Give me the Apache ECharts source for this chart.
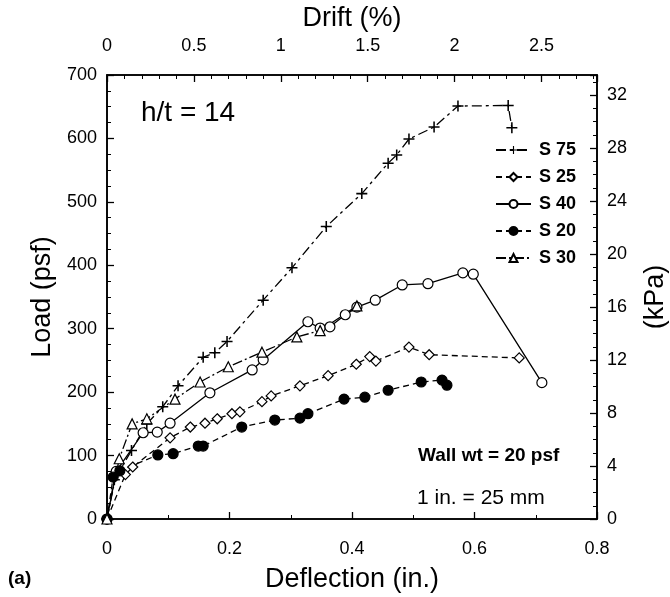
<!DOCTYPE html>
<html><head><meta charset="utf-8">
<script src="https://cdn.jsdelivr.net/npm/echarts@6/dist/echarts.min.js"></script>
<style>html,body{margin:0;padding:0;background:#fff}#c{width:670px;height:597px}</style>
</head><body><div id="c"></div>
<script>
// Data: [deflection (in.), load (psf)]
const s75 = [[0,0],[0.012,62],[0.04,108],[0.065,150],[0.091,177],[0.116,210],[0.157,255],[0.176,262],[0.196,280],[0.255,345],[0.302,396],[0.358,461],[0.416,513],[0.459,561],[0.473,574],[0.493,599],[0.534,618],[0.573,651],[0.655,652],[0.661,617]];
const s25 = [[0,0],[0.03,70],[0.042,82],[0.103,128],[0.136,145],[0.160,151],[0.180,158],[0.204,166],[0.217,169],[0.253,185],[0.268,194],[0.315,210],[0.361,226],[0.407,244],[0.429,256],[0.439,249],[0.493,271],[0.526,259],[0.673,254]];
const s40 = [[0,0],[0.015,75],[0.059,136],[0.082,137],[0.103,151],[0.168,199],[0.237,235],[0.255,251],[0.328,311],[0.348,301],[0.364,303],[0.389,322],[0.408,334],[0.438,345],[0.482,369],[0.524,371],[0.581,388],[0.598,386],[0.710,215]];
const s20 = [[0,0],[0.010,66],[0.021,76],[0.083,101],[0.108,103],[0.149,115],[0.157,115],[0.220,145],[0.274,156],[0.315,159],[0.328,166],[0.387,189],[0.421,192],[0.459,203],[0.513,216],[0.547,219],[0.555,211]];
const s30 = [[0,0],[0.02,95],[0.041,150],[0.065,158],[0.111,189],[0.152,216],[0.198,240],[0.253,263],[0.310,287],[0.348,297],[0.408,336]];
const seriesNames = ['S 75','S 25','S 40','S 20','S 30'];
const xTicks = [0,0.2,0.4,0.6,0.8];
const driftTicks = [0,0.5,1,1.5,2,2.5];
const kpaTicks = [0,4,8,12,16,20,24,28,32];

const FONT = 'Liberation Sans';
const PSF_TO_KPA = 0.04788;
const DRIFT_MAX = 2.82;
const plus = 'path://M4.3,0H5.7V4.3H10V5.7H5.7V10H4.3V5.7H0V4.3H4.3Z';

function mk(name, data, symbol, filled, dash, size) {
  return {
    name, type:'line', data, symbol, symbolSize: size,
    xAxisIndex:0, yAxisIndex:0,
    lineStyle:{color:'#000', width:1.3, type:dash},
    itemStyle:{color: filled ? '#000' : '#fff', borderColor:'#000', borderWidth: 1.2},
    emphasis:{disabled:true}, animation:false
  };
}
const plusSeries = mk(seriesNames[0], s75, plus, true, [10,4,3,4], 11);
plusSeries.itemStyle = {color:'#000', borderWidth:0};

function axisBase() {
  return {
    axisLine:{show:true, onZero:false, lineStyle:{color:'#000', width:1.6}},
    axisTick:{show:true, inside:true, length:7, lineStyle:{color:'#000', width:1.3}},
    splitLine:{show:false},
    nameTextStyle:{color:'#000', fontFamily:FONT, fontSize:27}
  };
}
function lab(extra) {
  return Object.assign({color:'#000', fontFamily:FONT, fontSize:18, showMaxLabel:false}, extra);
}

const chart = echarts.init(document.getElementById('c'), null, {renderer:'canvas'});
chart.setOption({
  backgroundColor:'#fff',
  animation:false,
  grid:{left:107, right:73, top:75, bottom:78, containLabel:false, outerBoundsMode:'none',
        show:true, borderColor:'#000', borderWidth:1.6, backgroundColor:'transparent'},
  legend:{
    orient:'vertical', left:490, top:136, itemGap:9, itemWidth:35, itemHeight:10,
    data:seriesNames,
    textStyle:{color:'#000', fontFamily:FONT, fontSize:18, lineHeight:18, fontWeight:'bold', padding:[0,0,0,3]}
  },
  xAxis:[
    Object.assign(axisBase(), {
      type:'value', position:'bottom', min:0, max:0.8, interval:0.2,
      minorTick:{show:true, splitNumber:2, length:4, lineStyle:{color:'#000'}},
      axisLabel:lab({showMaxLabel:true, margin:21, formatter:v=>xTicks.includes(+v.toFixed(2))?String(+v.toFixed(1)):''}),
      name:'Deflection (in.)', nameLocation:'middle', nameGap:47
    }),
    Object.assign(axisBase(), {
      type:'value', position:'top', min:0, max:DRIFT_MAX, interval:0.5,
      minorTick:{show:true, splitNumber:5, length:4, lineStyle:{color:'#000'}},
      axisLabel:lab({margin:20, formatter:v=>driftTicks.includes(+v.toFixed(2))?String(+v.toFixed(1)):''}),
      name:'Drift (%)', nameLocation:'middle', nameGap:43
    })
  ],
  yAxis:[
    Object.assign(axisBase(), {
      type:'value', position:'left', min:0, max:700, interval:100,
      minorTick:{show:true, splitNumber:4, length:4, lineStyle:{color:'#000'}},
      axisLabel:lab({showMaxLabel:true, margin:10}),
      name:'Load (psf)', nameLocation:'middle', nameGap:50, nameRotate:90
    }),
    Object.assign(axisBase(), {
      type:'value', position:'right', min:0, max:700*PSF_TO_KPA, interval:4,
      minorTick:{show:true, splitNumber:4, length:4, lineStyle:{color:'#000'}},
      axisLabel:lab({margin:10, formatter:v=>kpaTicks.includes(Math.round(v))&&Math.abs(v-Math.round(v))<1e-6?String(Math.round(v)):''}),
      name:'(kPa)', nameLocation:'middle', nameGap:45, nameRotate:90
    })
  ],
  graphic:[
    {type:'text', left:141, top:99, style:{text:'h/t = 14', font:'28px "Liberation Sans"', fill:'#000'}},
    {type:'text', left:418, top:446, style:{text:'Wall wt = 20 psf', font:'bold 19px "Liberation Sans"', fill:'#000'}},
    {type:'text', left:417, top:488, style:{text:'1 in. = 25 mm', font:'21px "Liberation Sans"', fill:'#000'}},
    {type:'text', left:8, top:569, style:{text:'(a)', font:'bold 19px "Liberation Sans"', fill:'#000'}}
  ],
  series:[
    plusSeries,
    mk(seriesNames[1], s25, 'diamond', false, [6,4], 10),
    mk(seriesNames[2], s40, 'circle', false, 'solid', 10),
    mk(seriesNames[3], s20, 'circle', true, [6,4], 10),
    mk(seriesNames[4], s30, 'triangle', false, [10,3,2,3], 10)
  ]
});
</script></body></html>
